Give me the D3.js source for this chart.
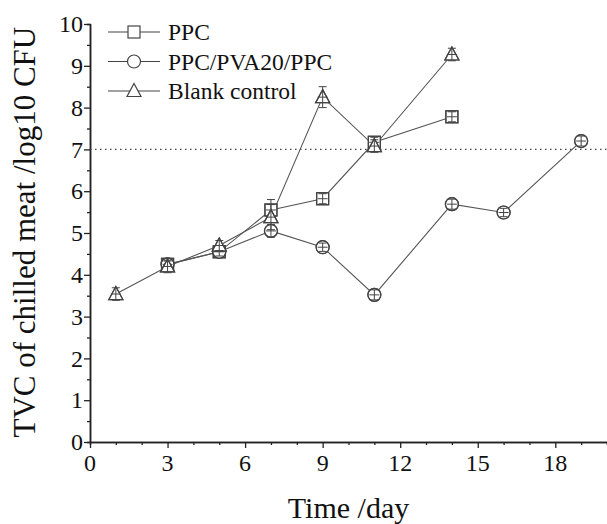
<!DOCTYPE html>
<html>
<head>
<meta charset="utf-8">
<script src="https://cdnjs.cloudflare.com/ajax/libs/d3/7.8.5/d3.min.js"></script>
<style>
  body { margin: 0; background: #fff; }
  text { font-family: "Liberation Serif", "Times New Roman", serif; fill: #111; }
</style>
</head>
<body>
<div id="chart"></div>
<script>
// Data
var ppcDays = [3, 5, 7, 9, 11, 14],
    ppcVals = [4.25, 4.55, 5.55, 5.82, 7.17, 7.78],
    ppcErr  = [0.08, 0.1, 0.25, 0.12, 0.12, 0.12];

var pvaDays = [3, 5, 7, 9, 11, 14, 16, 19],
    pvaVals = [4.25, 4.55, 5.05, 4.66, 3.52, 5.69, 5.49, 7.2],
    pvaErr  = [0.08, 0.1, 0.15, 0.1, 0.12, 0.12, 0.1, 0.12];

var blankDays = [1, 3, 5, 7, 9, 11, 14],
    blankVals = [3.54, 4.2, 4.7, 5.38, 8.25, 7.08, 9.27],
    blankErr  = [0.15, 0.15, 0.12, 0.3, 0.25, 0.15, 0.15];

var xTicks = [0, 3, 6, 9, 12, 15, 18],
    yTicks = [0, 1, 2, 3, 4, 5, 6, 7, 8, 9, 10];

var threshold = 7;

var svgWidth = 607, svgHeight = 524;
var margin = {left: 90, right: 0, top: 24, bottom: 82};
var width = svgWidth - margin.left - margin.right,
    height = svgHeight - margin.top - margin.bottom;

var svg = d3.select("#chart").append("svg")
    .attr("width", svgWidth)
    .attr("height", svgHeight);

var g = svg.append("g")
    .attr("transform", `translate(${margin.left}, ${margin.top})`);

var x = d3.scaleLinear().domain([0, 20]).range([0, width]);
var y = d3.scaleLinear().domain([0, 10]).range([height, 0]);

// minor ticks
var xMinor = d3.range(0, 21, 1).filter(d => d % 3 !== 0);
var yMinor = d3.range(0.5, 10, 1);

g.append("g")
    .attr("transform", `translate(0, ${height})`)
    .call(d3.axisBottom(x).tickValues(xMinor).tickSize(3).tickFormat(""));
g.append("g")
    .call(d3.axisLeft(y).tickValues(yMinor).tickSize(3).tickFormat(""));

// major ticks, labels drawn separately so the serif font sticks
g.append("g")
    .attr("class", "x-major")
    .attr("transform", `translate(0, ${height})`)
    .call(d3.axisBottom(x).tickValues(xTicks).tickSize(6).tickSizeOuter(0).tickFormat(""));
g.append("g")
    .attr("class", "y-major")
    .call(d3.axisLeft(y).tickValues(yTicks).tickSize(6).tickSizeOuter(0).tickFormat(""));

g.selectAll(".domain").attr("stroke", "#222").attr("stroke-width", 1.5);
g.selectAll(".tick line").attr("stroke", "#222").attr("stroke-width", 1.3);
g.selectAll(".tick text").remove();

g.selectAll(".xlab")
    .data(xTicks)
    .enter().append("text")
    .attr("class", "xlab")
    .attr("x", d => x(d))
    .attr("y", height + 29)
    .attr("text-anchor", "middle")
    .attr("font-size", "24px")
    .text(d => d);

g.selectAll(".ylab")
    .data(yTicks)
    .enter().append("text")
    .attr("class", "ylab")
    .attr("x", -7)
    .attr("y", d => y(d))
    .attr("dy", "0.34em")
    .attr("text-anchor", "end")
    .attr("font-size", "24px")
    .text(d => d);

// axis titles
g.append("text")
    .attr("x", x(10))
    .attr("y", height + 76)
    .attr("text-anchor", "middle")
    .attr("font-size", "30px")
    .text("Time /day");

g.append("text")
    .attr("transform", "rotate(-90)")
    .attr("x", -y(5.02))
    .attr("y", -55)
    .attr("text-anchor", "middle")
    .attr("font-size", "31px")
    .text("TVC of chilled meat /log10 CFU");

// threshold
g.append("line")
    .attr("x1", 0).attr("x2", width)
    .attr("y1", y(threshold)).attr("y2", y(threshold))
    .attr("stroke", "#444")
    .attr("stroke-width", 1.2)
    .attr("stroke-dasharray", "1.5,3.5");

var series = [
    {name: "PPC", days: ppcDays, vals: ppcVals, err: ppcErr, shape: "square"},
    {name: "PPC/PVA20/PPC", days: pvaDays, vals: pvaVals, err: pvaErr, shape: "circle"},
    {name: "Blank control", days: blankDays, vals: blankVals, err: blankErr, shape: "triangle"}
];

function drawMarker(sel, shape, cx, cy) {
    var m;
    if (shape === "square") {
        m = sel.append("rect").attr("x", cx - 6).attr("y", cy - 6)
            .attr("width", 12).attr("height", 12);
    } else if (shape === "circle") {
        m = sel.append("circle").attr("cx", cx).attr("cy", cy).attr("r", 6.5);
    } else {
        m = sel.append("path")
            .attr("d", `M${cx},${cy - 7.5}L${cx + 7},${cy + 5.5}L${cx - 7},${cy + 5.5}Z`);
    }
    m.attr("fill", "none").attr("stroke", "#444").attr("stroke-width", 1.2);
}

var line = d3.line().x(d => x(d[0])).y(d => y(d[1]));

series.forEach(s => {
    var pts = s.days.map((d, i) => [d, s.vals[i], s.err[i]]);
    g.append("path")
        .datum(pts)
        .attr("d", line)
        .attr("fill", "none")
        .attr("stroke", "#555")
        .attr("stroke-width", 1.1);
});

series.forEach(s => {
    var pts = s.days.map((d, i) => [d, s.vals[i], s.err[i]]);
    var mg = g.append("g");
    pts.forEach(p => {
        var cx = x(p[0]), cy = y(p[1]);
        // white knockout so lines don't show through
        drawMarker(mg, s.shape, cx, cy);
        mg.select(":last-child").attr("fill", "#fff");
    });
    pts.forEach(p => {
        var cx = x(p[0]), cy = y(p[1]);
        drawMarker(mg, s.shape, cx, cy);
        // error bar
        var top = y(p[1] + p[2]), bot = y(p[1] - p[2]);
        mg.append("line").attr("x1", cx).attr("x2", cx).attr("y1", top).attr("y2", bot)
            .attr("stroke", "#444").attr("stroke-width", 1);
        [top, bot].forEach(v => {
            mg.append("line").attr("x1", cx - 4).attr("x2", cx + 4).attr("y1", v).attr("y2", v)
                .attr("stroke", "#444").attr("stroke-width", 1);
        });
        mg.append("line").attr("x1", cx - 5).attr("x2", cx + 5).attr("y1", cy).attr("y2", cy)
            .attr("stroke", "#444").attr("stroke-width", 1);
    });
});

// legend
var legend = svg.append("g").attr("transform", "translate(108, 32)");
series.forEach((s, i) => {
    var ly = i * 29.5;
    legend.append("line").attr("x1", 0).attr("x2", 52).attr("y1", ly).attr("y2", ly)
        .attr("stroke", "#444").attr("stroke-width", 1.1);
    drawMarker(legend, s.shape, 26, ly);
    legend.select(":last-child").attr("fill", "#fff");
    legend.append("text")
        .attr("x", 60).attr("y", ly)
        .attr("dy", "0.35em")
        .attr("font-size", "23.5px")
        .text(s.name);
});
</script>
</body>
</html>
